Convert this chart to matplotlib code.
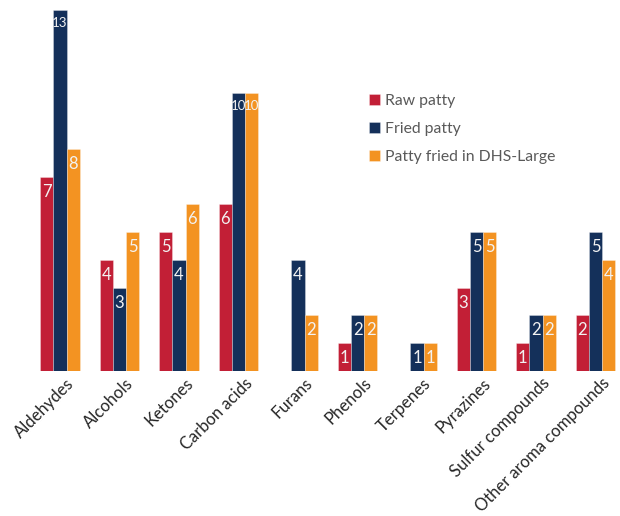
import numpy as np
import matplotlib
matplotlib.use("Agg")
import matplotlib.pyplot as plt
import matplotlib.transforms as mtransforms

plt.rcParams['font.family'] = ['Lato', 'DejaVu Sans']

categories = ["Aldehydes", "Alcohols", "Ketones", "Carbon acids", "Furans",
              "Phenols", "Terpenes", "Pyrazines", "Sulfur compounds",
              "Other aroma compounds"]
raw = [7, 4, 5, 6, 0, 1, 0, 3, 1, 2]
fried = [13, 3, 4, 10, 4, 2, 1, 5, 2, 5]
dhs = [8, 5, 6, 10, 2, 2, 1, 5, 2, 4]

series = [("Raw patty", raw, "#c21f36"),
          ("Fried patty", fried, "#14305a"),
          ("Patty fried in DHS-Large", dhs, "#f39322")]

W, H = 620, 516
fig = plt.figure(figsize=(W / 100, H / 100), dpi=100)
ax = fig.add_axes([30.25 / W, 145 / H, (620 - 30.25) / W, (371 - 10) / H])

x = np.arange(len(categories))
bw = 0.224
for k, (name, vals, col) in enumerate(series):
    pos = x + (k - 1) * bw
    ax.bar(pos, vals, bw, color=col, label=name,
           edgecolor=(1, 1, 1, 0.35), linewidth=0.6)
    for xp, v in zip(pos, vals):
        if v == 0:
            continue
        fs = 12 if v < 10 else 9.5
        ax.annotate(str(v), (xp, v), xytext=(0, -5), textcoords="offset points",
                    ha="center", va="top", color="#f2f2f2", fontsize=fs)

ax.set_xlim(-0.5, (620 - 60) / 59.5)
ax.set_ylim(0, 13)
ax.set_yticks([])
ax.set_xticks(x)
ax.set_xticklabels(categories, rotation=45, ha="right", va="top",
                   rotation_mode="anchor", fontsize=12, color="#262626")
ax.tick_params(axis="x", length=0, pad=3)
shift = mtransforms.ScaledTranslation(6 / 100, 0, fig.dpi_scale_trans)
for lab in ax.get_xticklabels():
    lab.set_transform(lab.get_transform() + shift)
for s in ax.spines.values():
    s.set_visible(False)

leg = ax.legend(loc="upper left", bbox_to_anchor=(0.564, 0.785), frameon=False,
                borderaxespad=0, fontsize=11.3, handlelength=0.7,
                handleheight=0.7, handletextpad=0.3, labelspacing=0.88)
for t in leg.get_texts():
    t.set_color("#595959")

fig.savefig("out.png", dpi=100)
